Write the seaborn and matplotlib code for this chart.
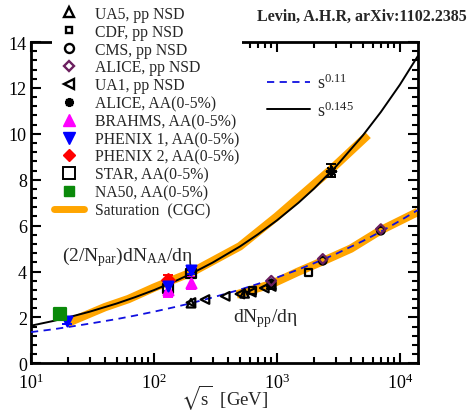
import matplotlib
matplotlib.use("Agg")
import matplotlib.pyplot as plt
import seaborn as sns
import numpy as np
import pandas as pd
from matplotlib.lines import Line2D
from matplotlib.ticker import MultipleLocator, LogLocator, FixedLocator

sns.set_style("ticks")
plt.rcParams['font.family'] = ['Liberation Serif', 'DejaVu Serif']
plt.rcParams['mathtext.fontset'] = 'stix'

# ---------------- data ----------------
# fit curves
fit_x = [10, 15, 20, 30, 50, 70, 100, 150, 200, 300, 500, 700, 1000, 1500,
         2000, 3000, 5000, 7000, 10000, 14000]
s0145_y = [1.64, 1.84, 2.00, 2.25, 2.61, 2.88, 3.19, 3.59, 3.90, 4.39, 5.09,
           5.62, 6.23, 7.00, 7.61, 8.56, 9.93, 10.95, 12.14, 13.39]
s011_y = [1.36, 1.48, 1.58, 1.73, 1.93, 2.08, 2.25, 2.46, 2.62, 2.87, 3.21,
          3.46, 3.74, 4.09, 4.36, 4.76, 5.33, 5.74, 6.21, 6.68]

sat_aa_x = [19.6, 40, 62, 100, 130, 200, 500, 1000, 2760, 5500]
sat_aa_y = [1.75, 2.45, 2.8, 3.3, 3.55, 3.95, 5.1, 6.4, 8.45, 9.95]
sat_pp_x = [470, 900, 1500, 2360, 4000, 7000, 14000]
sat_pp_y = [3.0, 3.45, 4.0, 4.45, 5.0, 5.8, 6.6]

ua5_x = [200, 546, 900]
ua5_y = [2.62, 3.05, 3.43]
cdf_x = [630, 1800]
cdf_y = [3.18, 3.95]
cms_x = [900, 2360, 7000]
cms_y = [3.48, 4.47, 5.78]
alice_pp_x = [900, 2360, 7000]
alice_pp_y = [3.6, 4.55, 5.85]
ua1_x = [200, 260, 380, 500, 620, 790, 900]
ua1_y = [2.65, 2.78, 2.92, 3.02, 3.1, 3.28, 3.35]
alice_aa_x = [2760]
alice_aa_y = [8.4]
alice_aa_err = [0.3]
brahms_x = [130, 200]
brahms_y = [3.2, 3.5]
brahms_err = [0.32, 0.25]
phenix1_x = [19.6, 130, 200]
phenix1_y = [1.85, 3.35, 4.05]
phenix1_err = [0.15, 0.2, 0.15]
phenix2_x = [130]
phenix2_y = [3.65]
phenix2_err = [0.2]
star_x = [130, 200]
star_y = [3.25, 3.9]
star_err = [0.15, 0.15]
na50_x = [17.3]
na50_y = [2.15]

legend_labels = ['UA5, pp NSD', 'CDF, pp NSD', 'CMS, pp NSD', 'ALICE, pp NSD',
                 'UA1, pp NSD', 'ALICE, AA(0-5%)', 'BRAHMS, AA(0-5%)',
                 'PHENIX 1, AA(0-5%)', 'PHENIX 2, AA(0-5%)', 'STAR, AA(0-5%)',
                 'NA50, AA(0-5%)', 'Saturation  (CGC)']

# ---------------- figure ----------------
fig = plt.figure(figsize=(4.70, 4.14), dpi=100)
ax = fig.add_axes([0.066, 0.12, 0.823, 0.776])

orange = '#FFA500'
sns.lineplot(x=sat_aa_x, y=sat_aa_y, ax=ax, color=orange, lw=6, solid_capstyle='butt', zorder=2)
sns.lineplot(x=sat_pp_x, y=sat_pp_y, ax=ax, color=orange, lw=6, solid_capstyle='butt', zorder=2)
sns.lineplot(x=fit_x, y=s0145_y, ax=ax, color='black', lw=1.4, zorder=3)
ax.plot(fit_x, s011_y, color='#1010e0', lw=1.3, ls=(0, (4, 3)), zorder=3)

def pts(x, y, marker, face, edge, size, err=None, ecolor=None, lw=1.6):
    if err is not None:
        ax.errorbar(x, y, yerr=err, fmt='none', ecolor=ecolor or edge,
                    elinewidth=1.4, capsize=3.5, capthick=1.4, zorder=4)
    sns.scatterplot(x=x, y=y, ax=ax, marker=marker, s=size, color=face,
                    edgecolor=edge, linewidth=lw, zorder=5)

pts(ua5_x, ua5_y, '^', 'none', 'black', 38)
pts(ua1_x, ua1_y, '<', 'none', 'black', 38)
pts(cdf_x, cdf_y, 's', 'none', 'black', 22)
pts(cms_x, cms_y, 'o', 'none', 'black', 30)
pts(alice_pp_x, alice_pp_y, 'D', 'none', '#6b1f5f', 24)
pts(star_x, star_y, 's', 'none', 'black', 45, star_err)
pts(brahms_x, brahms_y, '^', '#ff00ff', '#ff00ff', 50, brahms_err)
pts(phenix2_x, phenix2_y, 'D', '#ff0000', '#ff0000', 42, phenix2_err)
pts(phenix1_x, phenix1_y, 'v', '#0000ff', '#0000ff', 50, phenix1_err)
pts(alice_aa_x, alice_aa_y, (8, 2, 0), 'black', 'black', 45, alice_aa_err)
pts(na50_x, na50_y, 's', '#0a8a0a', '#0a8a0a', 70)

ax.set_xscale('log')
ax.set_xlim(10, 14000)
ax.set_ylim(0, 14)
ax.yaxis.set_major_locator(FixedLocator([0, 2, 4, 6, 8, 10, 12, 14]))
ax.yaxis.set_minor_locator(MultipleLocator(0.4))
ax.xaxis.set_major_locator(LogLocator(base=10, numticks=10))
ax.xaxis.set_minor_locator(LogLocator(base=10, subs=np.arange(2, 10), numticks=20))
ax.tick_params(which='both', direction='in', top=True, right=True, width=1.5,
               labelsize=13, colors='black')
ax.tick_params(which='major', length=7, pad=3)
ax.tick_params(which='minor', length=4)
ax.tick_params(axis='x', labeltop=False, pad=7)
for sp in ax.spines.values():
    sp.set_linewidth(2)
    sp.set_color('black')

fig.text(0.478, 0.004, r'$\sqrt{\mathregular{s}}$  [GeV]', fontsize=13.5,
         ha='center', va='bottom')

ax.text(18, 4.5, r'$\mathregular{(2/N_{par})dN_{AA}/d\eta}$', fontsize=14)
ax.text(438, 1.85, r'$\mathregular{dN_{pp}/d\eta}$', fontsize=14)

fig.text(0.993, 0.96, 'Levin, A.H.R, arXiv:1102.2385', fontsize=11.5,
         fontweight='bold', ha='right', va='center')

handles = [
    Line2D([], [], ls='none', marker='^', mfc='none', mec='black', ms=6.5, mew=1.7),
    Line2D([], [], ls='none', marker='s', mfc='none', mec='black', ms=5, mew=1.7),
    Line2D([], [], ls='none', marker='o', mfc='none', mec='black', ms=6.5, mew=1.7),
    Line2D([], [], ls='none', marker='D', mfc='none', mec='#6b1f5f', ms=5.5, mew=1.7),
    Line2D([], [], ls='none', marker='<', mfc='none', mec='black', ms=6.5, mew=1.7),
    Line2D([], [], ls='none', marker=(8, 2, 0), mfc='black', mec='black', ms=6.5, mew=1.7),
    Line2D([], [], ls='none', marker='^', mfc='#ff00ff', mec='#ff00ff', ms=8.5),
    Line2D([], [], ls='none', marker='v', mfc='#0000ff', mec='#0000ff', ms=8.5),
    Line2D([], [], ls='none', marker='D', mfc='#ff0000', mec='#ff0000', ms=6.5),
    Line2D([], [], ls='none', marker='s', mfc='none', mec='black', ms=8, mew=1.4),
    Line2D([], [], ls='none', marker='s', mfc='#0a8a0a', mec='#0a8a0a', ms=7.5),
    Line2D([], [], color=orange, lw=5),
]
leg = fig.legend(handles, legend_labels, loc='upper left', bbox_to_anchor=(0.107, 0.993),
                 frameon=True, facecolor='white', edgecolor='none', framealpha=1,
                 fancybox=False, fontsize=11.3, handlelength=1.9, handletextpad=0.7,
                 labelspacing=0.12, borderpad=0.15, borderaxespad=0.1)

h2 = [Line2D([], [], color='#1010e0', lw=1.3, ls=(0, (4, 3))),
      Line2D([], [], color='black', lw=1.4)]
leg2 = ax.legend(h2, [r'$\mathregular{s^{0.11}}$', r'$\mathregular{s^{0.145}}$'],
                 loc='upper left', bbox_to_anchor=(0.568, 0.955), frameon=False,
                 fontsize=13, handlelength=2.4, handletextpad=0.35, labelspacing=0.45)

fig.savefig('out.png', dpi=100)
